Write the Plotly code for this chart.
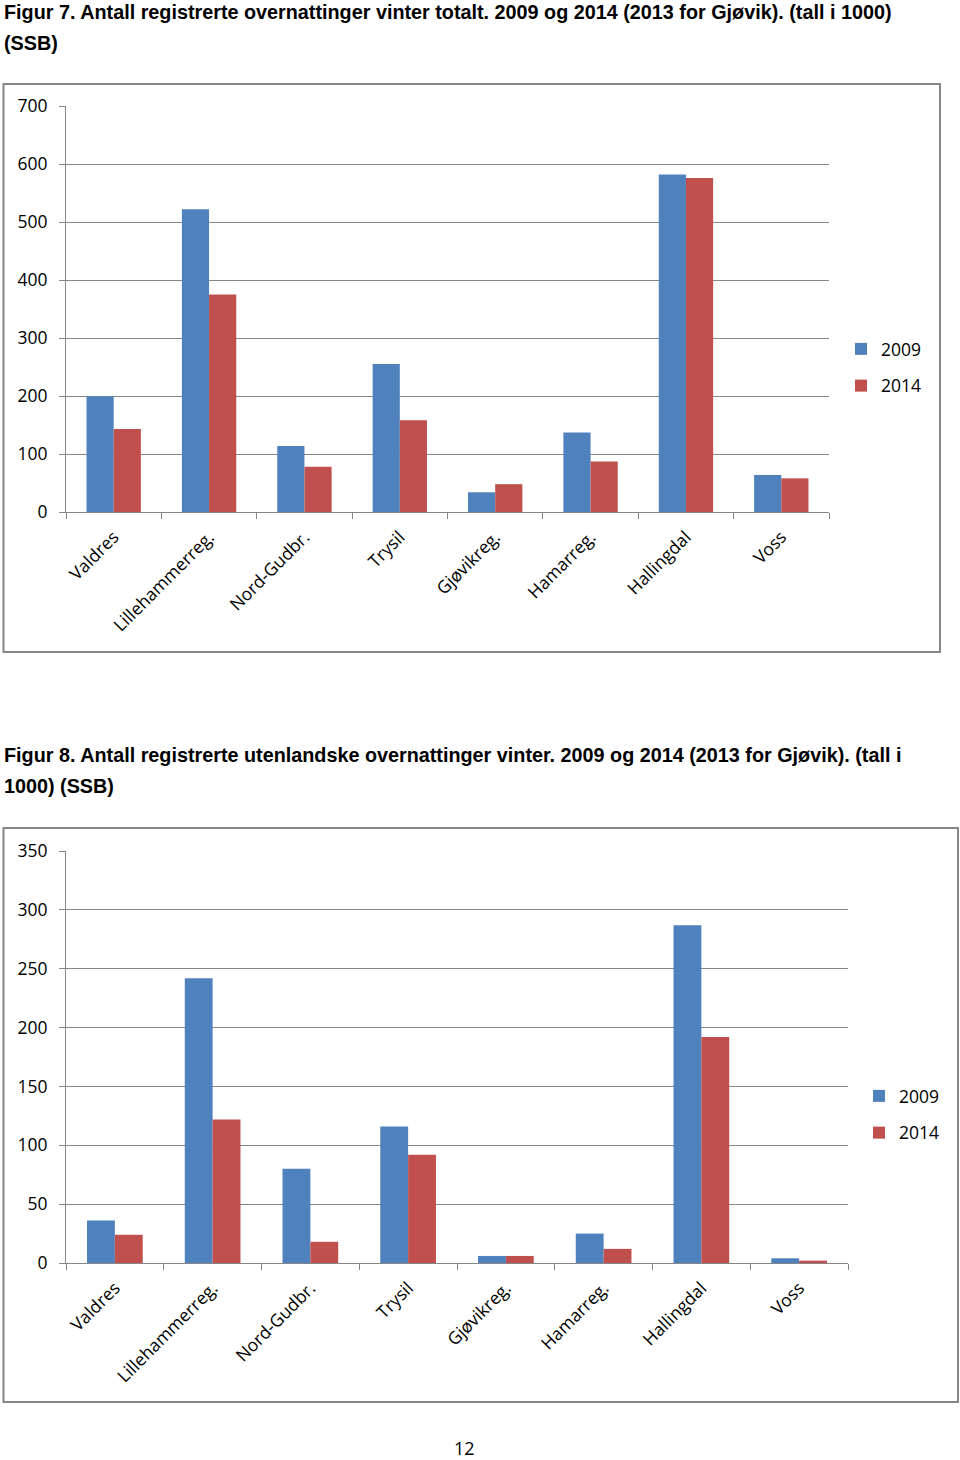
import plotly.graph_objects as go

categories = ["Valdres", "Lillehammerreg.", "Nord-Gudbr.", "Trysil", "Gjøvikreg.",
              "Hamarreg.", "Hallingdal", "Voss"]

# Figur 7: total winter overnight stays (thousands)
total_2009 = [199, 522, 114, 255, 34, 137, 582, 64]
total_2014 = [143, 375, 78, 158, 48, 87, 576, 58]

# Figur 8: foreign winter overnight stays (thousands)
foreign_2009 = [36, 242, 80, 116, 6, 25, 287, 4]
foreign_2014 = [24, 122, 18, 92, 6, 12, 192, 2]

series_names = ["2009", "2014"]
colors = ["#4F81BD", "#C0504D"]

title1_lines = ["Figur 7. Antall registrerte overnattinger vinter totalt. 2009 og 2014 (2013 for Gjøvik). (tall i 1000)",
                "(SSB)"]
title2_lines = ["Figur 8. Antall registrerte utenlandske overnattinger vinter. 2009 og 2014 (2013 for Gjøvik). (tall i",
                "1000) (SSB)"]
page_number = "12"

W, H = 960, 1460
GRID = "#868686"
BODY = "Open Sans, Lato, sans-serif"
XTICKFONT = dict(family=BODY, size=17.5, color="#000000")
YTICKFONT = dict(family=BODY, size=17.5, color="#000000")
TITLEFONT = dict(family="Liberation Sans Narrow, Arial Narrow, Liberation Sans, Arial, sans-serif",
                 size=19.8, color="#000000", weight="bold")


def px_x(v):
    return v / W


def px_y(v):
    return 1 - v / H


fig = go.Figure()

for vals, name, col in zip([total_2009, total_2014], series_names, colors):
    fig.add_trace(go.Bar(x=categories, y=vals, name=name, marker_color=col,
                         marker_line_width=0, xaxis="x", yaxis="y",
                         legend="legend", legendgroup=name))
for vals, name, col in zip([foreign_2009, foreign_2014], series_names, colors):
    fig.add_trace(go.Bar(x=categories, y=vals, name=name, marker_color=col,
                         marker_line_width=0, xaxis="x2", yaxis="y2",
                         legend="legend2", legendgroup=name + "b"))

xcommon = dict(type="category", showline=True, linecolor=GRID, linewidth=1,
               ticks="outside", tickson="boundaries", ticklen=6, tickcolor=GRID,
               tickangle=-45, tickfont=XTICKFONT, showgrid=False, fixedrange=True,
               automargin=False, ticklabelstandoff=7)
ycommon = dict(showline=True, linecolor=GRID, linewidth=1, ticks="outside",
               ticklen=6, tickcolor=GRID, showgrid=True, gridcolor=GRID,
               gridwidth=1, zeroline=False, tickfont=YTICKFONT, fixedrange=True,
               ticklabelstandoff=8, automargin=False)

legcommon = dict(font=dict(family=BODY, size=17.5, color="#000000"),
                 bgcolor="rgba(0,0,0,0)", traceorder="grouped", tracegroupgap=11,
                 xanchor="left", yanchor="middle", itemclick=False, itemwidth=30)

annotations = []
for i, line in enumerate(title1_lines):
    annotations.append(dict(text=line, xref="paper", yref="paper", x=px_x(2), y=px_y(12 + 31 * i),
                            xanchor="left", yanchor="middle", align="left", showarrow=False,
                            font=TITLEFONT))
for i, line in enumerate(title2_lines):
    annotations.append(dict(text=line, xref="paper", yref="paper", x=px_x(2), y=px_y(755 + 31 * i),
                            xanchor="left", yanchor="middle", align="left", showarrow=False,
                            font=TITLEFONT))
annotations.append(dict(text=page_number, xref="paper", yref="paper", x=px_x(464), y=px_y(1448),
                        xanchor="center", yanchor="middle", showarrow=False,
                        font=dict(family=BODY, size=18, color="#000000")))

fig.update_layout(
    width=W, height=H,
    margin=dict(l=0, r=0, t=0, b=0, pad=0, autoexpand=False),
    paper_bgcolor="white", plot_bgcolor="white",
    barmode="group", bargap=0.43, bargroupgap=0,
    xaxis=dict(domain=[px_x(66), px_x(829)], anchor="y", **xcommon),
    yaxis=dict(domain=[px_y(512), px_y(106)], anchor="x", range=[0, 700], dtick=100, **ycommon),
    xaxis2=dict(domain=[px_x(66), px_x(848)], anchor="y2", **xcommon),
    yaxis2=dict(domain=[px_y(1263), px_y(851)], anchor="x2", range=[0, 350], dtick=50, **ycommon),
    legend=dict(x=px_x(841), y=px_y(367.5), **legcommon),
    legend2=dict(x=px_x(859), y=px_y(1114.5), **legcommon),
    shapes=[
        dict(type="rect", xref="paper", yref="paper", x0=px_x(3.5), x1=px_x(940),
             y0=px_y(652), y1=px_y(84), line=dict(color=GRID, width=2), layer="below"),
        dict(type="rect", xref="paper", yref="paper", x0=px_x(3.5), x1=px_x(958),
             y0=px_y(1402), y1=px_y(828), line=dict(color=GRID, width=2), layer="below"),
    ],
    annotations=annotations,
)

fig.write_html("out.html")
